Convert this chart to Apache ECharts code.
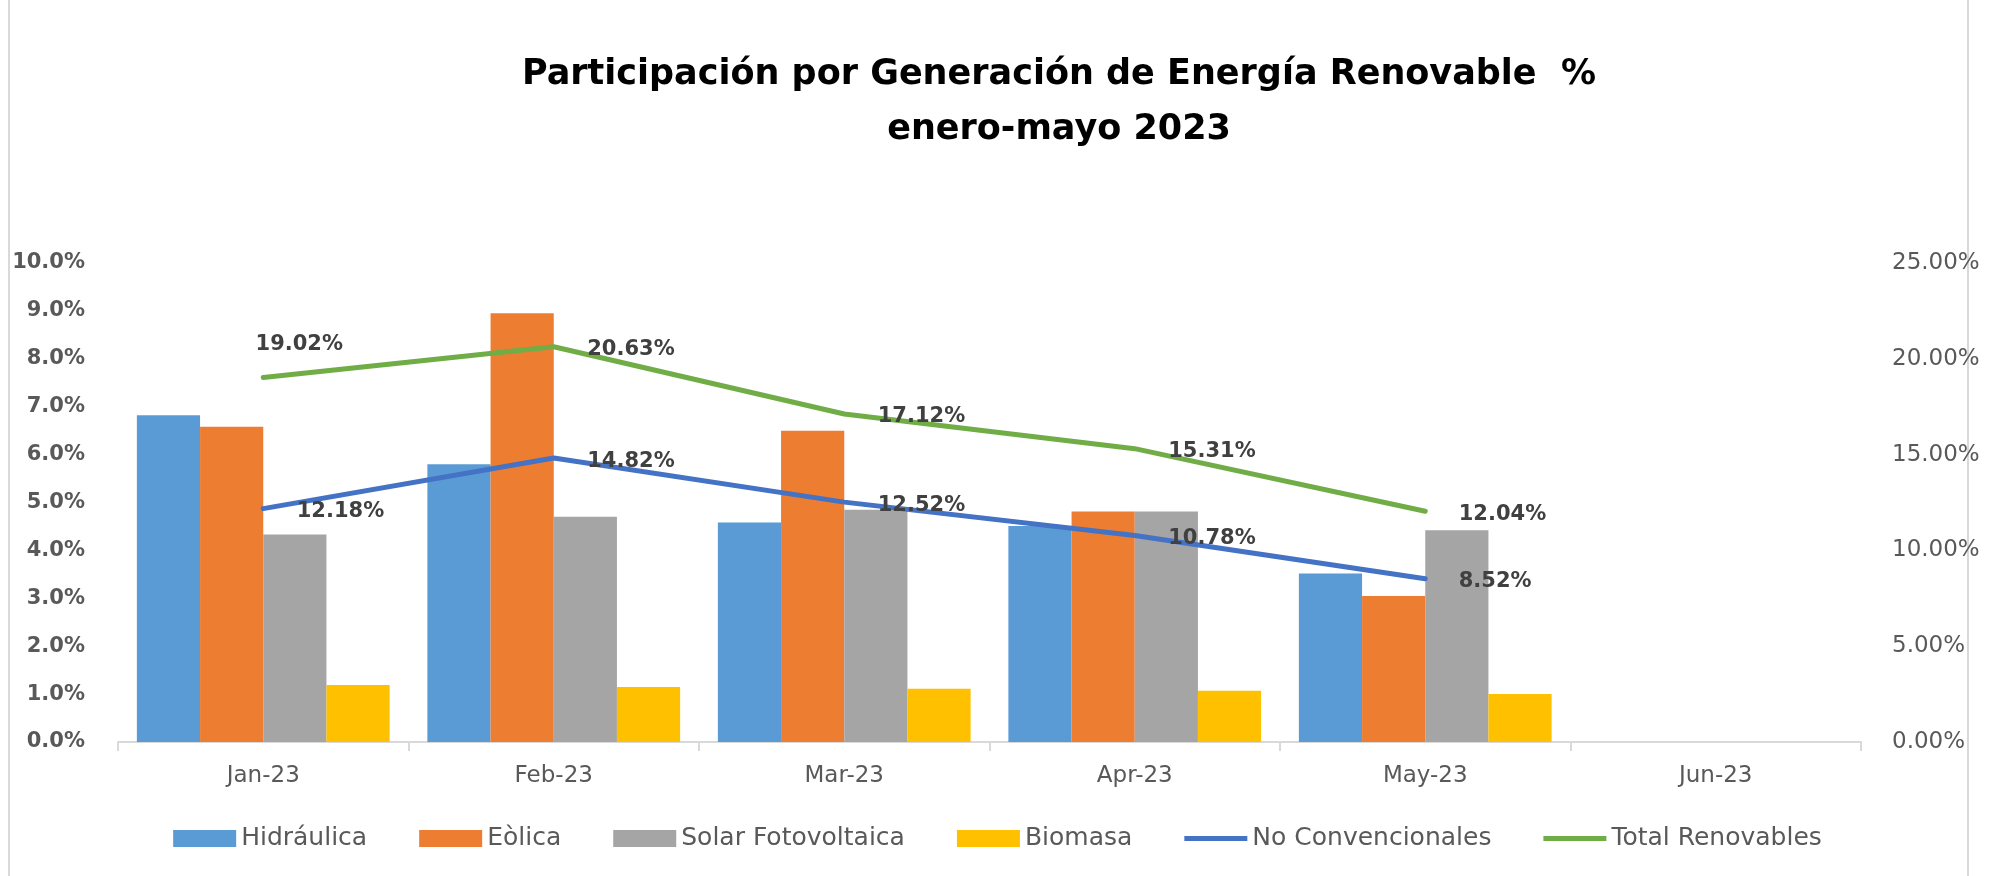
<!DOCTYPE html>
<html>
<head>
<meta charset="utf-8">
<script src="https://cdn.jsdelivr.net/npm/echarts@6/dist/echarts.min.js"></script>
<style>
  html, body { margin: 0; padding: 0; background: #fff; }
  #main { width: 1995px; height: 876px; }
</style>
</head>
<body>
<div id="main"></div>
<script>
var months = ['Jan-23', 'Feb-23', 'Mar-23', 'Apr-23', 'May-23', 'Jun-23'];
// left axis (%), bars
var hidraulica = [6.82, 5.80, 4.58, 4.51, 3.52, null];
var eolica = [6.58, 8.95, 6.50, 4.81, 3.05, null];
var solar = [4.33, 4.70, 4.85, 4.81, 4.42, null];
var biomasa = [1.19, 1.15, 1.11, 1.07, 1.00, null];
// right axis (%), lines
var noConvencionales = [12.18, 14.82, 12.52, 10.78, 8.52, null];
var totalRenovables = [19.02, 20.63, 17.12, 15.31, 12.04, null];

var font = 'DejaVu Sans';
var axisColor = '#595959';
// thin line legend marker (invisible corner points keep the box 63x17)
var lineIcon = 'path://M0,0L0,0M63,17L63,17M0,6L63,6L63,11L0,11Z';

function lineData(arr, special) {
    return arr.map(function (v, i) {
        if (special && special[i]) {
            return { value: v, label: special[i] };
        }
        return v;
    });
}

var myChart = echarts.init(document.getElementById('main'));

function barSeries(name, data, color) {
    return {
        name: name,
        type: 'bar',
        data: data,
        barGap: 0,
        barCategoryGap: '13%',
        itemStyle: { color: color },
        emphasis: { disabled: true }
    };
}

function lineSeries(name, data, color, special) {
    return {
        name: name,
        type: 'line',
        yAxisIndex: 1,
        data: lineData(data, special),
        symbol: 'circle',
        symbolSize: 1,
        lineStyle: { color: color, width: 5, cap: 'round', join: 'round' },
        itemStyle: { color: color },
        label: {
            show: true,
            position: 'right',
            distance: 33,
            offset: [0, 3],
            color: '#404040',
            fontFamily: font,
            fontWeight: 'bold',
            fontSize: 21,
            formatter: function (p) { return p.value.toFixed(2) + '%'; }
        },
        emphasis: { disabled: true }
    };
}

var option = {
    backgroundColor: '#ffffff',
    animation: false,
    title: {
        text: 'Participación por Generación de Energía Renovable  %\nenero-mayo 2023',
        left: 1059,
        top: 47,
        padding: 0,
        textAlign: 'center',
        textStyle: {
            fontFamily: font,
            fontWeight: 'bold',
            fontSize: 35,
            lineHeight: 55,
            color: '#000000'
        }
    },
    legend: {
        bottom: 20,
        left: 'center',
        itemWidth: 63,
        itemHeight: 17,
        itemGap: 52,
        textStyle: { fontFamily: font, fontSize: 25, color: axisColor },
        data: [
            { name: 'Hidráulica', icon: 'rect' },
            { name: 'Eòlica', icon: 'rect' },
            { name: 'Solar Fotovoltaica', icon: 'rect' },
            { name: 'Biomasa', icon: 'rect' },
            { name: 'No Convencionales', icon: lineIcon, itemStyle: { color: '#4472C4' } },
            { name: 'Total Renovables', icon: lineIcon, itemStyle: { color: '#70AD47' } }
        ]
    },
    grid: { left: 118, right: 134, top: 263, bottom: 134 },
    xAxis: {
        type: 'category',
        data: months,
        axisLine: { lineStyle: { color: '#d9d9d9', width: 2 } },
        axisTick: { show: true, length: 9, lineStyle: { color: '#d9d9d9', width: 2 } },
        axisLabel: { fontFamily: font, fontSize: 23, color: axisColor, margin: 23 }
    },
    yAxis: [{
        type: 'value',
        min: 0,
        max: 10,
        interval: 1,
        splitLine: { show: false },
        axisLine: { show: false },
        axisTick: { show: false },
        axisLabel: {
            fontFamily: font,
            fontWeight: 'bold',
            fontSize: 21,
            color: axisColor,
            margin: 33,
            formatter: function (v) { return v.toFixed(1) + '%'; }
        }
    }, {
        type: 'value',
        min: 0,
        max: 25,
        interval: 5,
        splitLine: { show: false },
        axisLine: { show: false },
        axisTick: { show: false },
        axisLabel: {
            fontFamily: font,
            fontSize: 23,
            color: axisColor,
            margin: 31,
            formatter: function (v) { return v.toFixed(2) + '%'; }
        }
    }],
    graphic: [{
        type: 'rect',
        shape: { x: 9, y: -5, width: 1959, height: 890 },
        style: { fill: 'none', stroke: '#d9d9d9', lineWidth: 2 },
        silent: true
    }],
    series: [
        barSeries('Hidráulica', hidraulica, '#5B9BD5'),
        barSeries('Eòlica', eolica, '#ED7D31'),
        barSeries('Solar Fotovoltaica', solar, '#A5A5A5'),
        barSeries('Biomasa', biomasa, '#FFC000'),
        lineSeries('No Convencionales', noConvencionales, '#4472C4'),
        lineSeries('Total Renovables', totalRenovables, '#70AD47',
            [{ position: 'top', distance: 5, offset: [36, -17] }])
    ]
};

myChart.setOption(option);
</script>
</body>
</html>
